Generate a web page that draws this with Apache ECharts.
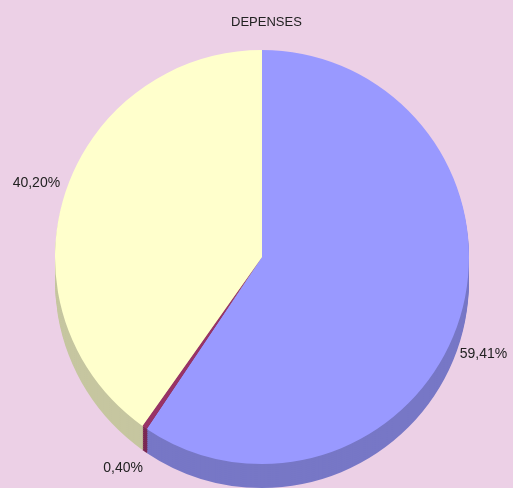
<!DOCTYPE html>
<html>
<head>
<meta charset="utf-8">
<title>DEPENSES</title>
<script src="https://cdn.jsdelivr.net/npm/echarts@6/dist/echarts.min.js"></script>
<style>
  html, body { margin: 0; padding: 0; background: #ecd0e6; }
  #chart { width: 513px; height: 488px; }
</style>
</head>
<body>
<div id="chart"></div>
<script>
// data
var categories = ['Poste A', 'Poste B', 'Poste C'];
var values = [59.41, 0.40, 40.20];
var labels = ['59,41%', '0,40%', '40,20%'];

var topColors = ['#9999ff', '#993366', '#ffffcc'];
var sideColors = ['#7777c6', '#7a2952', '#c6c6a0'];
// nudges so the labels sit where the 3D layout put them
var labelShift = [[-13, 35], [8, 34], [8, -9]];

var myChart = echarts.init(document.getElementById('chart'));

var cx = 262, cy = 257, r = 207, depth = 24;

function pieData(colors) {
    var d = [];
    for (var i = 0; i < values.length; i++) {
        d.push({ name: categories[i], value: values[i], itemStyle: { color: colors[i] } });
    }
    return d;
}

var series = [];
// side of the pie: a stack of darker pies pushed down
for (var off = depth; off > 0; off -= 2) {
    series.push({
        type: 'pie',
        silent: true,
        animation: false,
        z: 1,
        center: [cx, cy + off],
        radius: r,
        startAngle: 90,
        clockwise: true,
        label: { show: false },
        labelLine: { show: false },
        data: pieData(sideColors)
    });
}
// top face
series.push({
    type: 'pie',
    animation: false,
    z: 2,
    center: [cx, cy],
    radius: r,
    startAngle: 90,
    clockwise: true,
    avoidLabelOverlap: false,
    label: {
        show: true,
        position: 'outside',
        color: '#222',
        fontFamily: 'Liberation Sans',
        fontSize: 14,
        formatter: function (p) { return labels[p.dataIndex]; }
    },
    labelLine: { show: false, length: 8, length2: 0 },
    labelLayout: function (p) {
        var s = labelShift[p.dataIndex];
        return { dx: s[0], dy: s[1] };
    },
    data: pieData(topColors)
});

option = {
    backgroundColor: '#ecd0e6',
    title: {
        text: 'DEPENSES',
        left: 226,
        top: 11,
        textStyle: { fontFamily: 'Liberation Sans', fontSize: 13, fontWeight: 'normal', color: '#222' }
    },
    series: series
};
myChart.setOption(option);
</script>
</body>
</html>
